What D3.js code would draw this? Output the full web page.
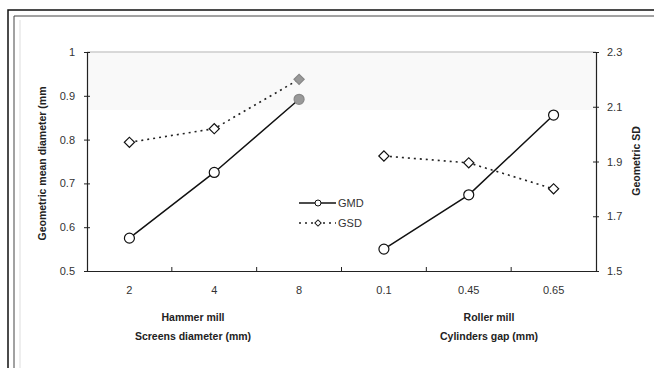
<!DOCTYPE html>
<html>
<head>
<meta charset="utf-8">
<script src="https://cdn.jsdelivr.net/npm/d3@7"></script>
<style>
  body { margin: 0; background: #fff; }
  svg { display: block; font-family: "Liberation Sans", Arial, sans-serif; }
</style>
</head>
<body>
<svg id="chart" width="654" height="368"></svg>
<script>
// categories: hammer mill screens (mm), then roller mill gaps (mm)
const hammerCats = ["2", "4", "8"]
const rollerCats = ["0.1", "0.45", "0.65"]
// geometric mean diameter (mm), left axis
const hammerGMD = [0.575, 0.725, 0.892]
const rollerGMD = [0.55, 0.674, 0.856]
// geometric SD, right axis
const hammerGSD = [1.97, 2.02, 2.2]
const rollerGSD = [1.92, 1.895, 1.8]
const leftTicks = [0.5, 0.6, 0.7, 0.8, 0.9, 1]
const rightTicks = [1.5, 1.7, 1.9, 2.1, 2.3]

const svg = d3.select("#chart")
const plotL = 87, plotR = 596, plotT = 52, plotB = 271

const x = d3.scaleBand().domain(hammerCats.concat(rollerCats)).range([plotL, plotR])
const yL = d3.scaleLinear().domain([0.5, 1]).range([plotB, plotT])
const yR = d3.scaleLinear().domain([1.5, 2.3]).range([plotB, plotT])

// scanned page frame
svg.append("path").attr("d", "M8,368V10H654").attr("fill", "none").attr("stroke", "#111").attr("stroke-width", 1.5)
svg.append("path").attr("d", "M14,368V16H654").attr("fill", "none").attr("stroke", "#444").attr("stroke-width", 1)
svg.append("line").attr("x1", 20).attr("x2", 20).attr("y1", 20).attr("y2", 368).attr("stroke", "#ddd")

// faint shading at the top of the plot area
svg.append("rect").attr("x", plotL).attr("y", plotT).attr("width", plotR - plotL).attr("height", 58).attr("fill", "#f9f9f9")
svg.append("line").attr("x1", plotL).attr("x2", plotR).attr("y1", plotT).attr("y2", plotT).attr("stroke", "#ccc").attr("stroke-width", 1.5)

// left axis
const gl = svg.append("g").attr("transform", `translate(${plotL},0)`)
  .call(d3.axisLeft(yL).tickValues(leftTicks).tickSize(3).tickPadding(9).tickFormat(d3.format("")))
gl.select(".domain").attr("stroke", "#222").attr("stroke-width", 1.2)
gl.selectAll(".tick line").attr("x2", 3).attr("x1", -3).attr("stroke", "#222")
gl.selectAll("text").attr("font-size", 11).attr("fill", "#333")

// right axis
const gr = svg.append("g").attr("transform", `translate(${plotR},0)`)
  .call(d3.axisRight(yR).tickValues(rightTicks).tickSize(3).tickPadding(8).tickFormat(d3.format("")))
gr.select(".domain").attr("stroke", "#222").attr("stroke-width", 1.2)
gr.selectAll(".tick line").attr("x1", -3).attr("x2", 3).attr("stroke", "#222")
gr.selectAll("text").attr("font-size", 11).attr("fill", "#333")

// bottom axis: labels centred in bands, ticks on band boundaries
const gb = svg.append("g").attr("transform", `translate(0,${plotB})`)
  .call(d3.axisBottom(x).tickSize(0).tickPadding(15))
gb.select(".domain").attr("stroke", "#222").attr("stroke-width", 1.2)
gb.selectAll("text").attr("font-size", 11).attr("fill", "#333")
gb.selectAll(".bound").data(x.domain().slice(1)).join("line")
  .attr("x1", d => x(d)).attr("x2", d => x(d)).attr("y1", -4).attr("y2", 0)
  .attr("stroke", "#222")

// axis titles
svg.append("text").attr("transform", `translate(46,${(plotT + plotB) / 2 + 2}) rotate(-90)`)
  .attr("text-anchor", "middle").attr("font-size", 10.5).attr("font-weight", "bold").attr("fill", "#222")
  .text("Geometric mean diameter (mm")
svg.append("text").attr("transform", `translate(640,161) rotate(-90)`)
  .attr("text-anchor", "middle").attr("font-size", 10.5).attr("font-weight", "bold").attr("fill", "#222")
  .text("Geometric SD")

const groupTitles = [
  {cx: 193, lines: ["Hammer mill", "Screens diameter (mm)"]},
  {cx: 489, lines: ["Roller mill", "Cylinders gap (mm)"]}
]
groupTitles.forEach(g => {
  svg.append("text").attr("x", g.cx).attr("y", 321).attr("text-anchor", "middle")
    .attr("font-size", 10.5).attr("font-weight", "bold").attr("fill", "#222").text(g.lines[0])
  svg.append("text").attr("x", g.cx).attr("y", 340).attr("text-anchor", "middle")
    .attr("font-size", 10.5).attr("fill", "#222").attr("font-weight", "bold").text(g.lines[1])
})

const cx = d => x(d) + x.bandwidth() / 2
// square turned 45 degrees, so the diamond is as wide as it is tall
const diamond = d3.symbol().type(d3.symbolSquare).size(52)

function drawSeries(cats, gmd, gsd, lastGray) {
  const ptsGSD = cats.map((c, i) => [cx(c), yR(gsd[i])])
  const ptsGMD = cats.map((c, i) => [cx(c), yL(gmd[i])])
  svg.append("path").attr("d", d3.line()(ptsGSD)).attr("fill", "none")
    .attr("stroke", "#222").attr("stroke-width", 1.6).attr("stroke-dasharray", "2,4")
  svg.append("path").attr("d", d3.line()(ptsGMD)).attr("fill", "none")
    .attr("stroke", "#111").attr("stroke-width", 1.5)
  svg.selectAll(null).data(ptsGSD).join("path")
    .attr("transform", d => `translate(${d[0]},${d[1]}) rotate(45)`).attr("d", diamond)
    .attr("fill", (d, i) => lastGray && i === 2 ? "#999" : "#fff")
    .attr("stroke", (d, i) => lastGray && i === 2 ? "#888" : "#111").attr("stroke-width", 1.2)
  svg.selectAll(null).data(ptsGMD).join("circle")
    .attr("cx", d => d[0]).attr("cy", d => d[1]).attr("r", 5)
    .attr("fill", (d, i) => lastGray && i === 2 ? "#999" : "#fff")
    .attr("stroke", (d, i) => lastGray && i === 2 ? "#888" : "#111").attr("stroke-width", 1.2)
}
drawSeries(hammerCats, hammerGMD, hammerGSD, true)
drawSeries(rollerCats, rollerGMD, rollerGSD, false)

// legend
const lg = svg.append("g").attr("transform", "translate(299,203)")
lg.append("line").attr("x1", 0).attr("x2", 37).attr("stroke", "#111").attr("stroke-width", 1.5)
lg.append("circle").attr("cx", 19).attr("r", 3).attr("fill", "#fff").attr("stroke", "#111")
lg.append("text").attr("x", 39).attr("y", 4).attr("font-size", 11).attr("fill", "#333").text("GMD")
lg.append("line").attr("x1", 0).attr("x2", 37).attr("y1", 20).attr("y2", 20)
  .attr("stroke", "#222").attr("stroke-width", 1.6).attr("stroke-dasharray", "2,4")
lg.append("path").attr("transform", "translate(19,20) rotate(45)").attr("d", d3.symbol().type(d3.symbolSquare).size(20))
  .attr("fill", "#fff").attr("stroke", "#111")
lg.append("text").attr("x", 39).attr("y", 24).attr("font-size", 11).attr("fill", "#333").text("GSD")
</script>
</body>
</html>
